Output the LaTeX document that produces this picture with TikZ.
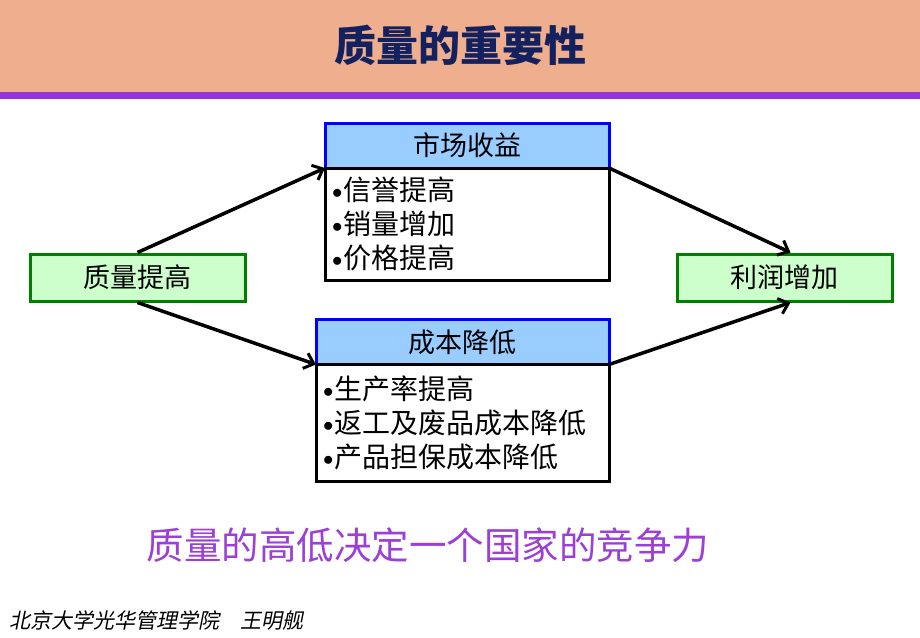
\documentclass[tikz,border=0pt]{standalone}
\usepackage{fontspec}
\setmainfont{Noto Sans CJK SC}
\newfontfamily\slantcjk[FakeSlant=0.2]{Noto Sans CJK SC}
\usetikzlibrary{positioning,arrows.meta}
\definecolor{peach}{HTML}{EFAE8E}
\definecolor{barpurple}{HTML}{9335D9}
\definecolor{navy}{HTML}{14215F}
\definecolor{textpurple}{HTML}{9B3FD6}
\definecolor{headblue}{HTML}{99CCFF}
\definecolor{lightgreen}{HTML}{CCFFCC}
\definecolor{darkgreen}{HTML}{008000}
\newcommand\dotitem{\raisebox{2pt}{\fontsize{20}{20}\selectfont$\bullet$}\kern1pt}

\begin{document}
\begin{tikzpicture}[x=1pt,y=-1pt,
  goalbox/.style={draw=darkgreen,fill=lightgreen,line width=3pt,
    minimum width=215pt,minimum height=47pt,font=\fontsize{27}{30}\selectfont},
  headbox/.style={draw=blue,fill=headblue,line width=3pt,outer sep=0pt,
    minimum height=45pt,font=\fontsize{27}{30}\selectfont},
  listbox/.style={draw=black,fill=white,line width=3pt,outer sep=0pt,
    inner xsep=7pt,align=left,font=\fontsize{28}{34}\selectfont},
  link/.style={line width=3.5pt,-{Straight Barb[length=9pt,width=16pt,line width=3pt]}}]
\useasboundingbox (0,0) rectangle (920,637);
\fill[peach] (0,0) rectangle (920,92);
\fill[barpurple] (0,92) rectangle (920,99);
\node[text=navy,font=\fontsize{42}{46}\selectfont\bfseries] (title) at (460,45) {质量的重要性};

\node[goalbox] (q) at (137.5,277.5) {质量提高};
\node[goalbox] (p) at (784.5,277.5) {利润增加};

\node[headbox,minimum width=284pt] (mh) at (467,145.5) {市场收益};
\node[listbox,text width=270pt,minimum height=112pt,below=0pt of mh] (mb)
  {\dotitem 信誉提高\\\dotitem 销量增加\\\dotitem 价格提高};

\node[headbox,minimum width=293pt] (ch) at (462.5,342) {成本降低};
\node[listbox,text width=279pt,minimum height=117pt,below=0pt of ch] (cb)
  {\dotitem 生产率提高\\\dotitem 返工及废品成本降低\\\dotitem 产品担保成本降低};

\draw[link] (q.north) -- (mb.north west);
\draw[link] (q.south) -- (cb.north west);
\draw[link] (mb.north east) -- ([xshift=6pt]p.north);
\draw[link] (cb.north east) -- ([xshift=6pt]p.south);

\node[text=textpurple,font=\fontsize{37.5}{40}\selectfont] (note) at (428,545)
  {质量的高低决定一个国家的竞争力};
\node[anchor=west,font=\fontsize{21}{24}\slantcjk] (foot) at (6,620)
  {北京大学光华管理学院\quad 王明舰};
\end{tikzpicture}
\end{document}
